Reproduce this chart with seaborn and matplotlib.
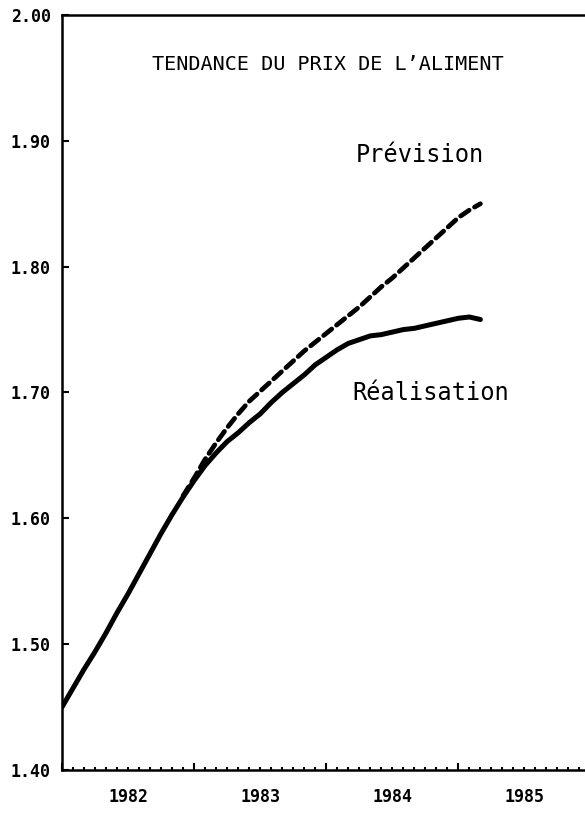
import numpy as np
import pandas as pd
import matplotlib
matplotlib.use("Agg")
import matplotlib.pyplot as plt
import matplotlib.transforms as mtransforms
from matplotlib.ticker import MultipleLocator, FormatStrFormatter
import seaborn as sns

# ---- data (months since Jan 1982) ----
real_months = list(range(0, 39))
real_values = [1.450, 1.465, 1.480, 1.494, 1.509, 1.525, 1.540, 1.556, 1.572, 1.588,
               1.603, 1.617, 1.630, 1.642, 1.652, 1.661, 1.668, 1.676, 1.683, 1.692,
               1.700, 1.707, 1.714, 1.722, 1.728, 1.734, 1.739, 1.742, 1.745, 1.746,
               1.748, 1.750, 1.751, 1.753, 1.755, 1.757, 1.759, 1.760, 1.758]
prev_months = list(range(11, 39))
prev_values = [1.618, 1.632, 1.647, 1.660, 1.672, 1.683, 1.693, 1.701, 1.709, 1.717,
               1.725, 1.733, 1.740, 1.747, 1.754, 1.761, 1.768, 1.776, 1.784, 1.791,
               1.799, 1.807, 1.815, 1.823, 1.831, 1.839, 1.845, 1.850]
year_labels = ["1982", "1983", "1984", "1985"]
title = "TENDANCE DU PRIX DE L\u2019ALIMENT"
label_prev = "Prévision"
label_real = "Réalisation"

sns.set_style("ticks")
plt.rcParams["font.family"] = ["DejaVu Sans Mono", "DejaVu Sans"]
plt.rcParams["text.color"] = "black"
plt.rcParams["ytick.color"] = "black"
plt.rcParams["xtick.color"] = "black"

fig = plt.figure(figsize=(5.85, 8.13), dpi=100)
ax = fig.add_axes([62/585, 1 - 770/813, (585 - 62)/585, (770 - 15)/813])

df_real = pd.DataFrame({"m": real_months, "v": real_values})
df_prev = pd.DataFrame({"m": prev_months, "v": prev_values})
sns.lineplot(data=df_real, x="m", y="v", ax=ax, color="black", linewidth=3.6,
             solid_capstyle="round")
sns.lineplot(data=df_prev, x="m", y="v", ax=ax, color="black", linewidth=3.4,
             dashes=False)
ax.lines[-1].set_dashes((2.2, 1.3))
ax.lines[-1].set_dash_capstyle("round")

ax.set_xlim(0, 47.5)
ax.set_ylim(1.40, 2.00)
ax.set_xlabel("")
ax.set_ylabel("")

ax.yaxis.set_major_locator(MultipleLocator(0.1))
ax.yaxis.set_major_formatter(FormatStrFormatter("%.2f"))
ax.xaxis.set_major_locator(MultipleLocator(12))
ax.xaxis.set_minor_locator(MultipleLocator(1))
ax.set_xticklabels([])
ax.tick_params(axis="y", which="major", direction="in", length=5, width=1.5,
               pad=8, labelsize=12, labelcolor="black")
ax.tick_params(axis="x", which="major", direction="in", length=5, width=1.5)
ax.tick_params(axis="x", which="minor", direction="in", length=2.5, width=1.5)
for lab in ax.get_yticklabels():
    lab.set_fontweight("bold")

for sp in ["left", "bottom", "top"]:
    ax.spines[sp].set_linewidth(1.8)
    ax.spines[sp].set_color("black")
ax.spines["right"].set_visible(False)

trans = mtransforms.blended_transform_factory(ax.transData, ax.transAxes)
for i, lab in enumerate(year_labels):
    ax.text(6 + 12 * i, -0.036, lab, transform=trans, ha="center", va="center",
            fontsize=12, fontweight="bold", color="black")

ax.text(24.1, 1.961, title, ha="center", va="center", fontsize=14.5, color="black")
ax.text(32.5, 1.889, label_prev, ha="center", va="center", fontsize=17, color="black")
ax.text(33.5, 1.700, label_real, ha="center", va="center", fontsize=17, color="black")

fig.savefig("out.png", dpi=100, facecolor="white")
